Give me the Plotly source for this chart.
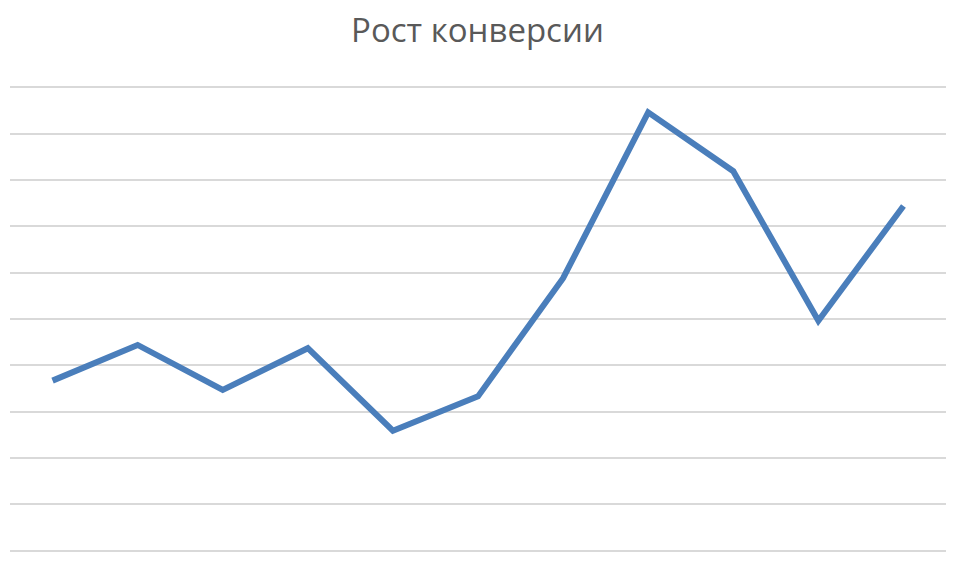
import plotly.graph_objects as go

# conversion growth, 11 periods (no axis labels in the source chart)
periods = list(range(1, 12))
conversion = [3.67, 4.44, 3.47, 4.37, 2.59, 3.33, 5.88, 9.46, 8.19, 4.96, 7.44]

fig = go.Figure()
fig.add_trace(go.Scatter(
    x=periods,
    y=conversion,
    mode="lines",
    line=dict(color="#4A7EBB", width=6),
    hoverinfo="skip",
))

# page body adds an 8px offset, margins are set with that in mind
fig.update_layout(
    width=970,
    height=572,
    paper_bgcolor="white",
    plot_bgcolor="white",
    showlegend=False,
    margin=dict(l=2, r=32, t=77, b=27),
    title=dict(
        text="Рост конверсии",
        x=0.484,
        xanchor="center",
        y=0.9615,
        yanchor="middle",
        font=dict(family="Open Sans", size=33, color="#595959"),
    ),
)
fig.update_xaxes(
    range=[0.5, 11.5],
    showgrid=False,
    showticklabels=False,
    zeroline=False,
    showline=False,
    ticks="",
)
# range padded a bit so the 0 and 10 gridlines are drawn too
fig.update_yaxes(
    range=[-0.05, 10.05],
    tickvals=list(range(0, 11)),
    showgrid=True,
    gridcolor="#D9D9D9",
    gridwidth=2,
    showticklabels=False,
    zeroline=False,
    showline=False,
    ticks="",
)

fig.write_html("out.html")
